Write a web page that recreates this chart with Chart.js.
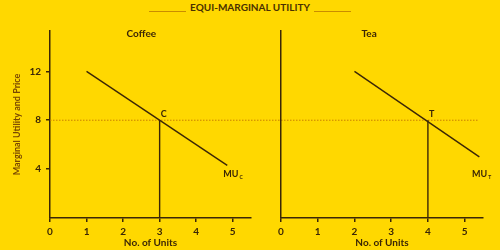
<!DOCTYPE html>
<html>
<head>
<meta charset="utf-8">
<title>Equi-Marginal Utility</title>
<script src="https://cdn.jsdelivr.net/npm/chart.js@4.4.1/dist/chart.umd.min.js"></script>
<style>
  html, body { margin: 0; padding: 0; background: #ffd800; }
  #wrap { position: relative; width: 500px; height: 250px; overflow: hidden; }
  #wrap canvas { position: absolute; left: 0; top: 0; }
  #heading {
    position: absolute; top: 1px; left: 0; width: 500px;
    text-align: center; font: bold 10px Lato, sans-serif; color: #4a3000;
  }
  #heading .rule {
    display: inline-block; width: 37px; height: 0;
    border-bottom: 1px solid #c98c00; vertical-align: -1px; margin: 0 4px;
  }
</style>
</head>
<body>
<div id="wrap">
  <div id="heading"><span class="rule"></span>EQUI-MARGINAL UTILITY<span class="rule"></span></div>
  <canvas id="coffee" width="500" height="250"></canvas>
  <canvas id="tea" width="500" height="250"></canvas>
</div>
<script>
(function () {
  'use strict';

  // axis ranges and ticks
  const X_TICKS = [0, 1, 2, 3, 4, 5];
  const Y_TICKS = [4, 8, 12];
  const X_MAX = 5.5;
  const Y_MAX = 15.3;

  // price level (dotted line), runs across both panels (coffee units)
  const PRICE = 8;
  const PRICE_UNITS = [0, 11.7];

  // marginal utility curves
  const COFFEE_UNITS = [1, 4.85];
  const COFFEE_MU = [12, 4.3];
  const COFFEE_EQ = 3;

  const TEA_UNITS = [2, 5.4];
  const TEA_MU = [12, 5.0];
  const TEA_EQ = 4;

  const INK = '#3b2606';
  const FONT = 'Lato, sans-serif';

  const toPoints = (xs, ys) => xs.map((x, i) => ({ x, y: ys[i] }));

  const panelText = {
    id: 'panelText',
    afterDatasetsDraw(chart, args, opts) {
      const { ctx, chartArea } = chart;
      const x = chart.scales.x;
      const y = chart.scales.y;
      ctx.save();
      ctx.fillStyle = INK;

      ctx.font = `bold 10px ${FONT}`;
      ctx.textAlign = 'center';
      ctx.textBaseline = 'middle';
      ctx.fillText(opts.title, x.getPixelForValue(opts.titleAt), chartArea.top + 3);

      ctx.font = `bold 9px ${FONT}`;
      ctx.textAlign = 'left';
      ctx.textBaseline = 'bottom';
      ctx.fillText(opts.point, x.getPixelForValue(opts.pointAt[0]) + 1, y.getPixelForValue(opts.pointAt[1]) - 2);

      const lx = x.getPixelForValue(opts.curveAt[0]);
      const ly = y.getPixelForValue(opts.curveAt[1]);
      ctx.textBaseline = 'middle';
      ctx.fillText('MU', lx, ly);
      const w = ctx.measureText('MU').width;
      ctx.font = `bold 5px ${FONT}`;
      ctx.fillText(opts.sub, lx + w + 1, ly + 3);
      ctx.restore();
    },
  };

  function makeScales(showY) {
    return {
      x: {
        type: 'linear',
        min: 0,
        max: X_MAX,
        afterBuildTicks: (s) => { s.ticks = X_TICKS.map((v) => ({ value: v })); },
        afterFit: (s) => { s.height = 32; },
        border: { color: INK, width: 1.5 },
        grid: { drawOnChartArea: false, color: INK, lineWidth: 1.5, tickLength: 4 },
        ticks: { color: INK, font: { family: FONT, size: 10, weight: 'bold' }, padding: 4, maxRotation: 0 },
        title: {
          display: true,
          text: 'No. of Units',
          color: INK,
          font: { family: FONT, size: 10, weight: 'bold' },
          padding: { top: 0, bottom: 1 },
        },
      },
      y: {
        type: 'linear',
        min: 0,
        max: Y_MAX,
        afterBuildTicks: (s) => { s.ticks = Y_TICKS.map((v) => ({ value: v })); },
        afterFit: (s) => { s.width = 50; },
        border: { color: INK, width: 1.5 },
        grid: { drawOnChartArea: false, drawTicks: showY, color: INK, lineWidth: 1.5, tickLength: showY ? 4 : 0 },
        ticks: { display: showY, color: INK, font: { family: FONT, size: 10, weight: 'bold' }, padding: 5 },
        title: {
          display: showY,
          text: 'Marginal Utility and Price',
          color: '#7a4800',
          font: { family: FONT, size: 9, weight: 'bold' },
          padding: { top: 12, bottom: 0 },
        },
      },
    };
  }

  function curve(data) {
    return { data, borderColor: INK, borderWidth: 1.4, pointRadius: 0, tension: 0 };
  }

  function makeChart(canvasId, cfg) {
    const datasets = [
      curve(toPoints(cfg.units, cfg.mu)),
      curve([{ x: cfg.eq, y: 0 }, { x: cfg.eq, y: PRICE }]),
    ];
    if (cfg.withPrice) {
      datasets.push({
        data: PRICE_UNITS.map((u) => ({ x: u, y: PRICE })),
        borderColor: '#c97f00',
        borderWidth: 1,
        borderDash: [1.5, 1.5],
        pointRadius: 0,
        clip: false,
      });
    }
    return new Chart(document.getElementById(canvasId), {
      type: 'line',
      data: { datasets },
      options: {
        responsive: false,
        animation: false,
        layout: { padding: { top: 31, left: cfg.padLeft, right: cfg.padRight, bottom: 0 } },
        scales: makeScales(cfg.showY),
        plugins: {
          legend: { display: false },
          tooltip: { enabled: false },
          panelText: cfg.text,
        },
      },
      plugins: [panelText],
    });
  }

  makeChart('coffee', {
    units: COFFEE_UNITS,
    mu: COFFEE_MU,
    eq: COFFEE_EQ,
    withPrice: true,
    showY: true,
    padLeft: 0,
    padRight: 249,
    text: { title: 'Coffee', titleAt: 2.5, point: 'C', pointAt: [COFFEE_EQ, PRICE], sub: 'C', curveAt: [4.74, 3.6] },
  });

  makeChart('tea', {
    units: TEA_UNITS,
    mu: TEA_MU,
    eq: TEA_EQ,
    withPrice: false,
    showY: false,
    padLeft: 231,
    padRight: 17,
    text: { title: 'Tea', titleAt: 2.4, point: 'T', pointAt: [TEA_EQ, PRICE], sub: 'T', curveAt: [5.2, 3.6] },
  });
})();
</script>
</body>
</html>
